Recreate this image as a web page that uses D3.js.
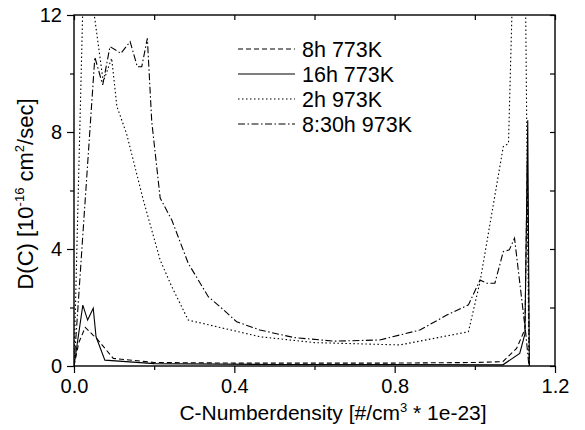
<!DOCTYPE html>
<html>
<head>
<meta charset="utf-8">
<script src="https://cdn.jsdelivr.net/npm/d3@7"></script>
<style>
  body { margin: 0; background: #fff; }
  svg { display: block; font-family: "Liberation Sans", Arial, sans-serif; }
</style>
</head>
<body>
<div id="chart"></div>
<script>
// DATA
const seriesNames = ["8h 773K", "16h 773K", "2h 973K", "8:30h 973K"];

const dashedX = [0, 0.012, 0.028, 0.048, 0.056, 0.098, 0.2, 0.4, 0.6, 0.8, 1.0, 1.07, 1.104, 1.125, 1.131, 1.136];
const dashedY = [0, 0.8, 1.32, 1.05, 0.95, 0.26, 0.12, 0.1, 0.1, 0.1, 0.12, 0.15, 0.6, 1.25, 7.0, 0];

const solidX = [0, 0.022, 0.034, 0.048, 0.055, 0.077, 0.2, 0.5, 0.8, 1.07, 1.112, 1.125, 1.132, 1.136];
const solidY = [0, 2.08, 1.57, 1.97, 1.0, 0.2, 0.08, 0.05, 0.05, 0.04, 0.43, 1.1, 8.4, 0];

const dottedX = [0, 0.026, 0.073, 0.094, 0.107, 0.131, 0.173, 0.215, 0.244, 0.285, 0.464, 0.6, 0.813, 0.984, 1.013, 1.071, 1.084, 1.118, 1.135];
const dottedY = [0, 14.5, 9.72, 10.52, 8.87, 7.95, 5.67, 3.62, 2.71, 1.57, 1.0, 0.8, 0.72, 1.17, 2.88, 7.5, 7.61, 25.3, 0];

const dashDotX = [0, 0.052, 0.0716, 0.0898, 0.117, 0.14, 0.158, 0.169, 0.183, 0.194, 0.215, 0.244, 0.285, 0.335, 0.364, 0.406, 0.464, 0.55, 0.65, 0.763, 0.863, 0.93, 0.984, 1.013, 1.03, 1.05, 1.071, 1.086, 1.099, 1.127, 1.135];
const dashDotY = [0, 10.56, 9.61, 10.92, 10.69, 11.09, 10.23, 10.23, 11.2, 8.35, 5.74, 4.99, 3.51, 2.37, 2.03, 1.51, 1.23, 0.97, 0.85, 0.89, 1.23, 1.74, 2.09, 2.94, 2.83, 2.83, 3.91, 3.97, 4.37, 1.12, 0];

const xMajorTicks = [0, 0.4, 0.8, 1.2];
const xMinorTicks = [0.2, 0.6, 1.0];
const yMajorTicks = [0, 4, 8, 12];
const yMinorTicks = [2, 6, 10];

// CANVAS
const W = 585, H = 430;
const LEFT = 74, RIGHT = 555, TOP = 15, BOTTOM = 366;

const svg = d3.select("#chart").append("svg")
  .attr("width", W)
  .attr("height", H);

svg.append("rect").attr("width", W).attr("height", H).attr("fill", "#fff");

// SCALE
const x = d3.scaleLinear().domain([0, 1.2]).range([LEFT, RIGHT]);
const y = d3.scaleLinear().domain([0, 12]).range([BOTTOM, TOP]);

svg.append("clipPath").attr("id", "plotClip")
  .append("rect")
  .attr("x", LEFT).attr("y", TOP)
  .attr("width", RIGHT - LEFT).attr("height", BOTTOM - TOP);

// LINES
const series = [
  { name: seriesNames[0], xs: dashedX, ys: dashedY, dash: "5,3" },
  { name: seriesNames[1], xs: solidX, ys: solidY, dash: null },
  { name: seriesNames[2], xs: dottedX, ys: dottedY, dash: "1.5,2.5" },
  { name: seriesNames[3], xs: dashDotX, ys: dashDotY, dash: "7,2.5,1.5,2.5" }
];

const line = d3.line().x((d) => x(d[0])).y((d) => y(d[1]));

const plot = svg.append("g").attr("clip-path", "url(#plotClip)");
series.forEach((s) => {
  plot.append("path")
    .datum(s.xs.map((v, i) => [v, s.ys[i]]))
    .attr("d", line)
    .attr("fill", "none")
    .attr("stroke", "#000")
    .attr("stroke-width", 1.1)
    .attr("stroke-dasharray", s.dash);
});

// AXIS
function noDomain(g) { g.select(".domain").remove(); }

svg.append("g")
  .attr("transform", `translate(0, ${BOTTOM})`)
  .call(d3.axisBottom(x).tickValues(xMajorTicks).tickSize(7).tickPadding(6).tickFormat(d3.format(".1f")))
  .call(noDomain);
svg.append("g")
  .attr("transform", `translate(0, ${BOTTOM})`)
  .call(d3.axisBottom(x).tickValues(xMinorTicks).tickSize(4).tickFormat(""))
  .call(noDomain);
svg.append("g")
  .attr("transform", `translate(${LEFT}, 0)`)
  .call(d3.axisLeft(y).tickValues(yMajorTicks).tickSize(7).tickPadding(5))
  .call(noDomain);
svg.append("g")
  .attr("transform", `translate(${LEFT}, 0)`)
  .call(d3.axisLeft(y).tickValues(yMinorTicks).tickSize(4).tickFormat(""))
  .call(noDomain);
// mirrored inward ticks
svg.append("g")
  .attr("transform", `translate(0, ${TOP})`)
  .call(d3.axisBottom(x).tickValues(xMajorTicks.concat(xMinorTicks)).tickSize(5).tickFormat(""))
  .call(noDomain);
svg.append("g")
  .attr("transform", `translate(${RIGHT}, 0)`)
  .call(d3.axisLeft(y).tickValues(yMajorTicks.concat(yMinorTicks)).tickSize(5).tickFormat(""))
  .call(noDomain);

svg.selectAll(".tick line").attr("stroke", "#000").attr("stroke-width", 1.2);
svg.selectAll(".tick text")
  .attr("fill", "#000")
  .style("font-family", "Liberation Sans, Arial, sans-serif")
  .style("font-size", "20px");

svg.append("rect")
  .attr("x", LEFT).attr("y", TOP)
  .attr("width", RIGHT - LEFT).attr("height", BOTTOM - TOP)
  .attr("fill", "none")
  .attr("stroke", "#000")
  .attr("stroke-width", 1.4);

// LABEL
const xLabel = svg.append("text")
  .attr("x", 333)
  .attr("y", 420)
  .attr("text-anchor", "middle")
  .attr("font-size", "21px")
  .attr("fill", "#000");
xLabel.append("tspan").text("C-Numberdensity [#/cm");
xLabel.append("tspan").attr("dy", "-8px").attr("font-size", "13px").text("3");
xLabel.append("tspan").attr("dy", "8px").text(" * 1e-23]");

const yLabel = svg.append("text")
  .attr("transform", "translate(33, 194) rotate(-90)")
  .attr("text-anchor", "middle")
  .attr("font-size", "22px")
  .attr("fill", "#000");
yLabel.append("tspan").text("D(C) [10");
yLabel.append("tspan").attr("dy", "-9px").attr("font-size", "13px").text("-16");
yLabel.append("tspan").attr("dy", "9px").text(" cm");
yLabel.append("tspan").attr("dy", "-9px").attr("font-size", "13px").text("2");
yLabel.append("tspan").attr("dy", "9px").text("/sec]");

// LEGEND
const legend = svg.append("g").attr("transform", "translate(238, 49)");
series.forEach((s, i) => {
  const row = legend.append("g").attr("transform", `translate(0, ${i * 25})`);
  row.append("line")
    .attr("x1", 0).attr("x2", 57)
    .attr("y1", 0).attr("y2", 0)
    .attr("stroke", "#000")
    .attr("stroke-width", 1.1)
    .attr("stroke-dasharray", s.dash);
  row.append("text")
    .attr("x", 64)
    .attr("y", 0)
    .attr("dy", "0.35em")
    .attr("font-size", "21.5px")
    .attr("fill", "#000")
    .text(s.name);
});
</script>
</body>
</html>
